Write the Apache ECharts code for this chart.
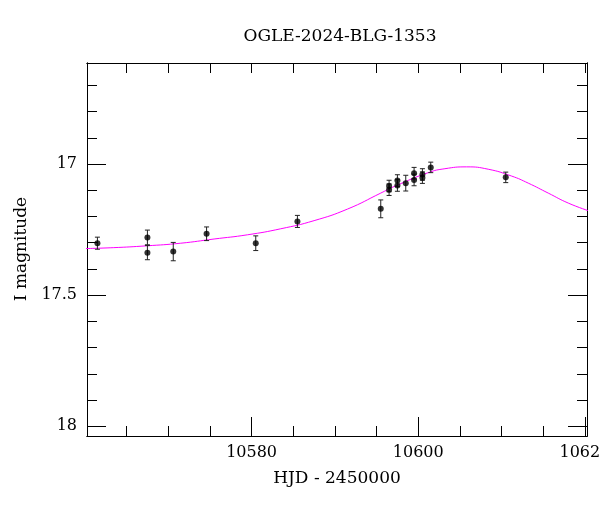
<!DOCTYPE html>
<html>
<head>
<meta charset="utf-8">
<script src="https://cdn.jsdelivr.net/npm/echarts@6/dist/echarts.min.js"></script>
<style>html,body{margin:0;padding:0;background:#fff}#c{width:600px;height:512px}</style>
</head>
<body>
<div id="c"></div>
<script>
// Observed photometry
var hjd = [10561.5, 10567.5, 10567.5, 10570.6, 10574.6, 10580.5, 10585.5, 10595.5, 10596.5, 10596.5, 10597.5, 10597.5, 10598.5, 10599.5, 10599.5, 10600.5, 10600.5, 10601.5, 10610.5];
var mag = [17.302, 17.280, 17.338, 17.334, 17.266, 17.302, 17.219, 17.171, 17.084, 17.098, 17.063, 17.082, 17.073, 17.035, 17.061, 17.040, 17.052, 17.013, 17.051];
var magErr = [0.023, 0.028, 0.027, 0.035, 0.026, 0.028, 0.023, 0.034, 0.022, 0.022, 0.022, 0.022, 0.030, 0.022, 0.022, 0.022, 0.022, 0.020, 0.020];
// Model curve
var modelHjd = [10559.4, 10563.4, 10567.4, 10571.5, 10575.5, 10579.5, 10583.5, 10587.5, 10591.5, 10595.5, 10597.1, 10601.2, 10603.2, 10605.8, 10608.4, 10611.2, 10613.2, 10615.6, 10618.0, 10620.5];
var modelMag = [17.323, 17.319, 17.312, 17.302, 17.286, 17.270, 17.247, 17.216, 17.172, 17.111, 17.086, 17.033, 17.018, 17.011, 17.020, 17.046, 17.073, 17.111, 17.149, 17.179];
// Ticks
var xMajor = [10580, 10600, 10620];
var xMinor = [10565, 10570, 10575, 10585, 10590, 10595, 10605, 10610, 10615];
var yMajor = [17, 17.5, 18];
var yMinor = [16.7, 16.8, 16.9, 17.1, 17.2, 17.3, 17.4, 17.6, 17.7, 17.8, 17.9];

var XMIN = 10560.25, XMAX = 10620.25, YMIN = 16.615, YMAX = 18.037;
var FONT = 'DejaVu Serif';

function fmt(v) { return String(Math.round(v * 1000) / 1000); }

function xAx(pos, ticks, len, labels) {
  return {
    type: 'value', position: pos, min: XMIN, max: XMAX,
    axisLine: {show: true, onZero: false, lineStyle: {color: '#000', width: 1}},
    axisTick: {show: true, inside: true, length: len, customValues: ticks, lineStyle: {color: '#000', width: 1}},
    axisLabel: labels ? {show: true, customValues: ticks, formatter: fmt, color: '#000', fontFamily: FONT, fontSize: 16, margin: 9} : {show: false},
    splitLine: {show: false}
  };
}
function yAx(pos, ticks, len, labels) {
  return {
    type: 'value', position: pos, min: YMIN, max: YMAX, inverse: true,
    axisLine: {show: true, onZero: false, lineStyle: {color: '#000', width: 1}},
    axisTick: {show: true, inside: true, length: len, customValues: ticks, lineStyle: {color: '#000', width: 1}},
    axisLabel: labels ? {show: true, customValues: ticks, formatter: fmt, color: '#000', fontFamily: FONT, fontSize: 16, margin: 10} : {show: false},
    splitLine: {show: false}
  };
}

var points = hjd.map(function (x, i) { return [x, mag[i], magErr[i]]; });
var model = modelHjd.map(function (x, i) { return [x, modelMag[i]]; });

var chart = echarts.init(document.getElementById('c'), null, {renderer: 'canvas'});
chart.setOption({
  animation: false,
  backgroundColor: '#fff',
  title: {
    text: 'OGLE-2024-BLG-1353', left: 335, top: 23, textAlign: 'center',
    textStyle: {fontFamily: FONT, fontSize: 17, fontWeight: 'normal', color: '#000'}
  },
  graphic: [
    {type: 'text', x: 22, y: 249, rotation: Math.PI / 2, silent: true,
      style: {text: 'I magnitude', fontFamily: FONT, fontSize: 17, fill: '#000', align: 'center', verticalAlign: 'middle'}},
    {type: 'text', x: 337, y: 479, silent: true,
      style: {text: 'HJD - 2450000', fontFamily: FONT, fontSize: 17, fill: '#000', align: 'center', verticalAlign: 'middle'}}
  ],
  grid: {left: 87, right: 13, top: 63, bottom: 76, containLabel: false, outerBoundsMode: 'none'},
  xAxis: [
    xAx('bottom', xMajor, 19, true),
    xAx('bottom', xMinor, 10, false),
    xAx('top', xMajor, 10, false),
    xAx('top', xMinor, 10, false)
  ],
  yAxis: [
    yAx('left', yMajor, 19, true),
    yAx('left', yMinor, 10, false),
    yAx('right', yMajor, 19, false),
    yAx('right', yMinor, 10, false)
  ],
  series: [
    {
      type: 'line', data: model, xAxisIndex: 0, yAxisIndex: 0, smooth: 0.5, showSymbol: false,
      lineStyle: {color: '#ff00ff', width: 1}, clip: true, z: 2
    },
    {
      type: 'custom', xAxisIndex: 0, yAxisIndex: 0, data: points, z: 3,
      renderItem: function (params, api) {
        var x = api.value(0), y = api.value(1), e = api.value(2);
        var top = api.coord([x, y - e]);
        var bot = api.coord([x, y + e]);
        var w = 2.5;
        var st = {stroke: '#222', lineWidth: 1};
        return {
          type: 'group',
          children: [
            {type: 'line', shape: {x1: top[0], y1: top[1], x2: bot[0], y2: bot[1]}, style: st},
            {type: 'line', shape: {x1: top[0] - w, y1: top[1], x2: top[0] + w, y2: top[1]}, style: st},
            {type: 'line', shape: {x1: bot[0] - w, y1: bot[1], x2: bot[0] + w, y2: bot[1]}, style: st}
          ]
        };
      },
      encode: {x: 0, y: 1}
    },
    {
      type: 'scatter', data: points.map(function (p) { return [p[0], p[1]]; }), xAxisIndex: 0, yAxisIndex: 0,
      symbol: 'circle', symbolSize: 6, itemStyle: {color: '#000'}, z: 4
    }
  ]
});
</script>
</body>
</html>
